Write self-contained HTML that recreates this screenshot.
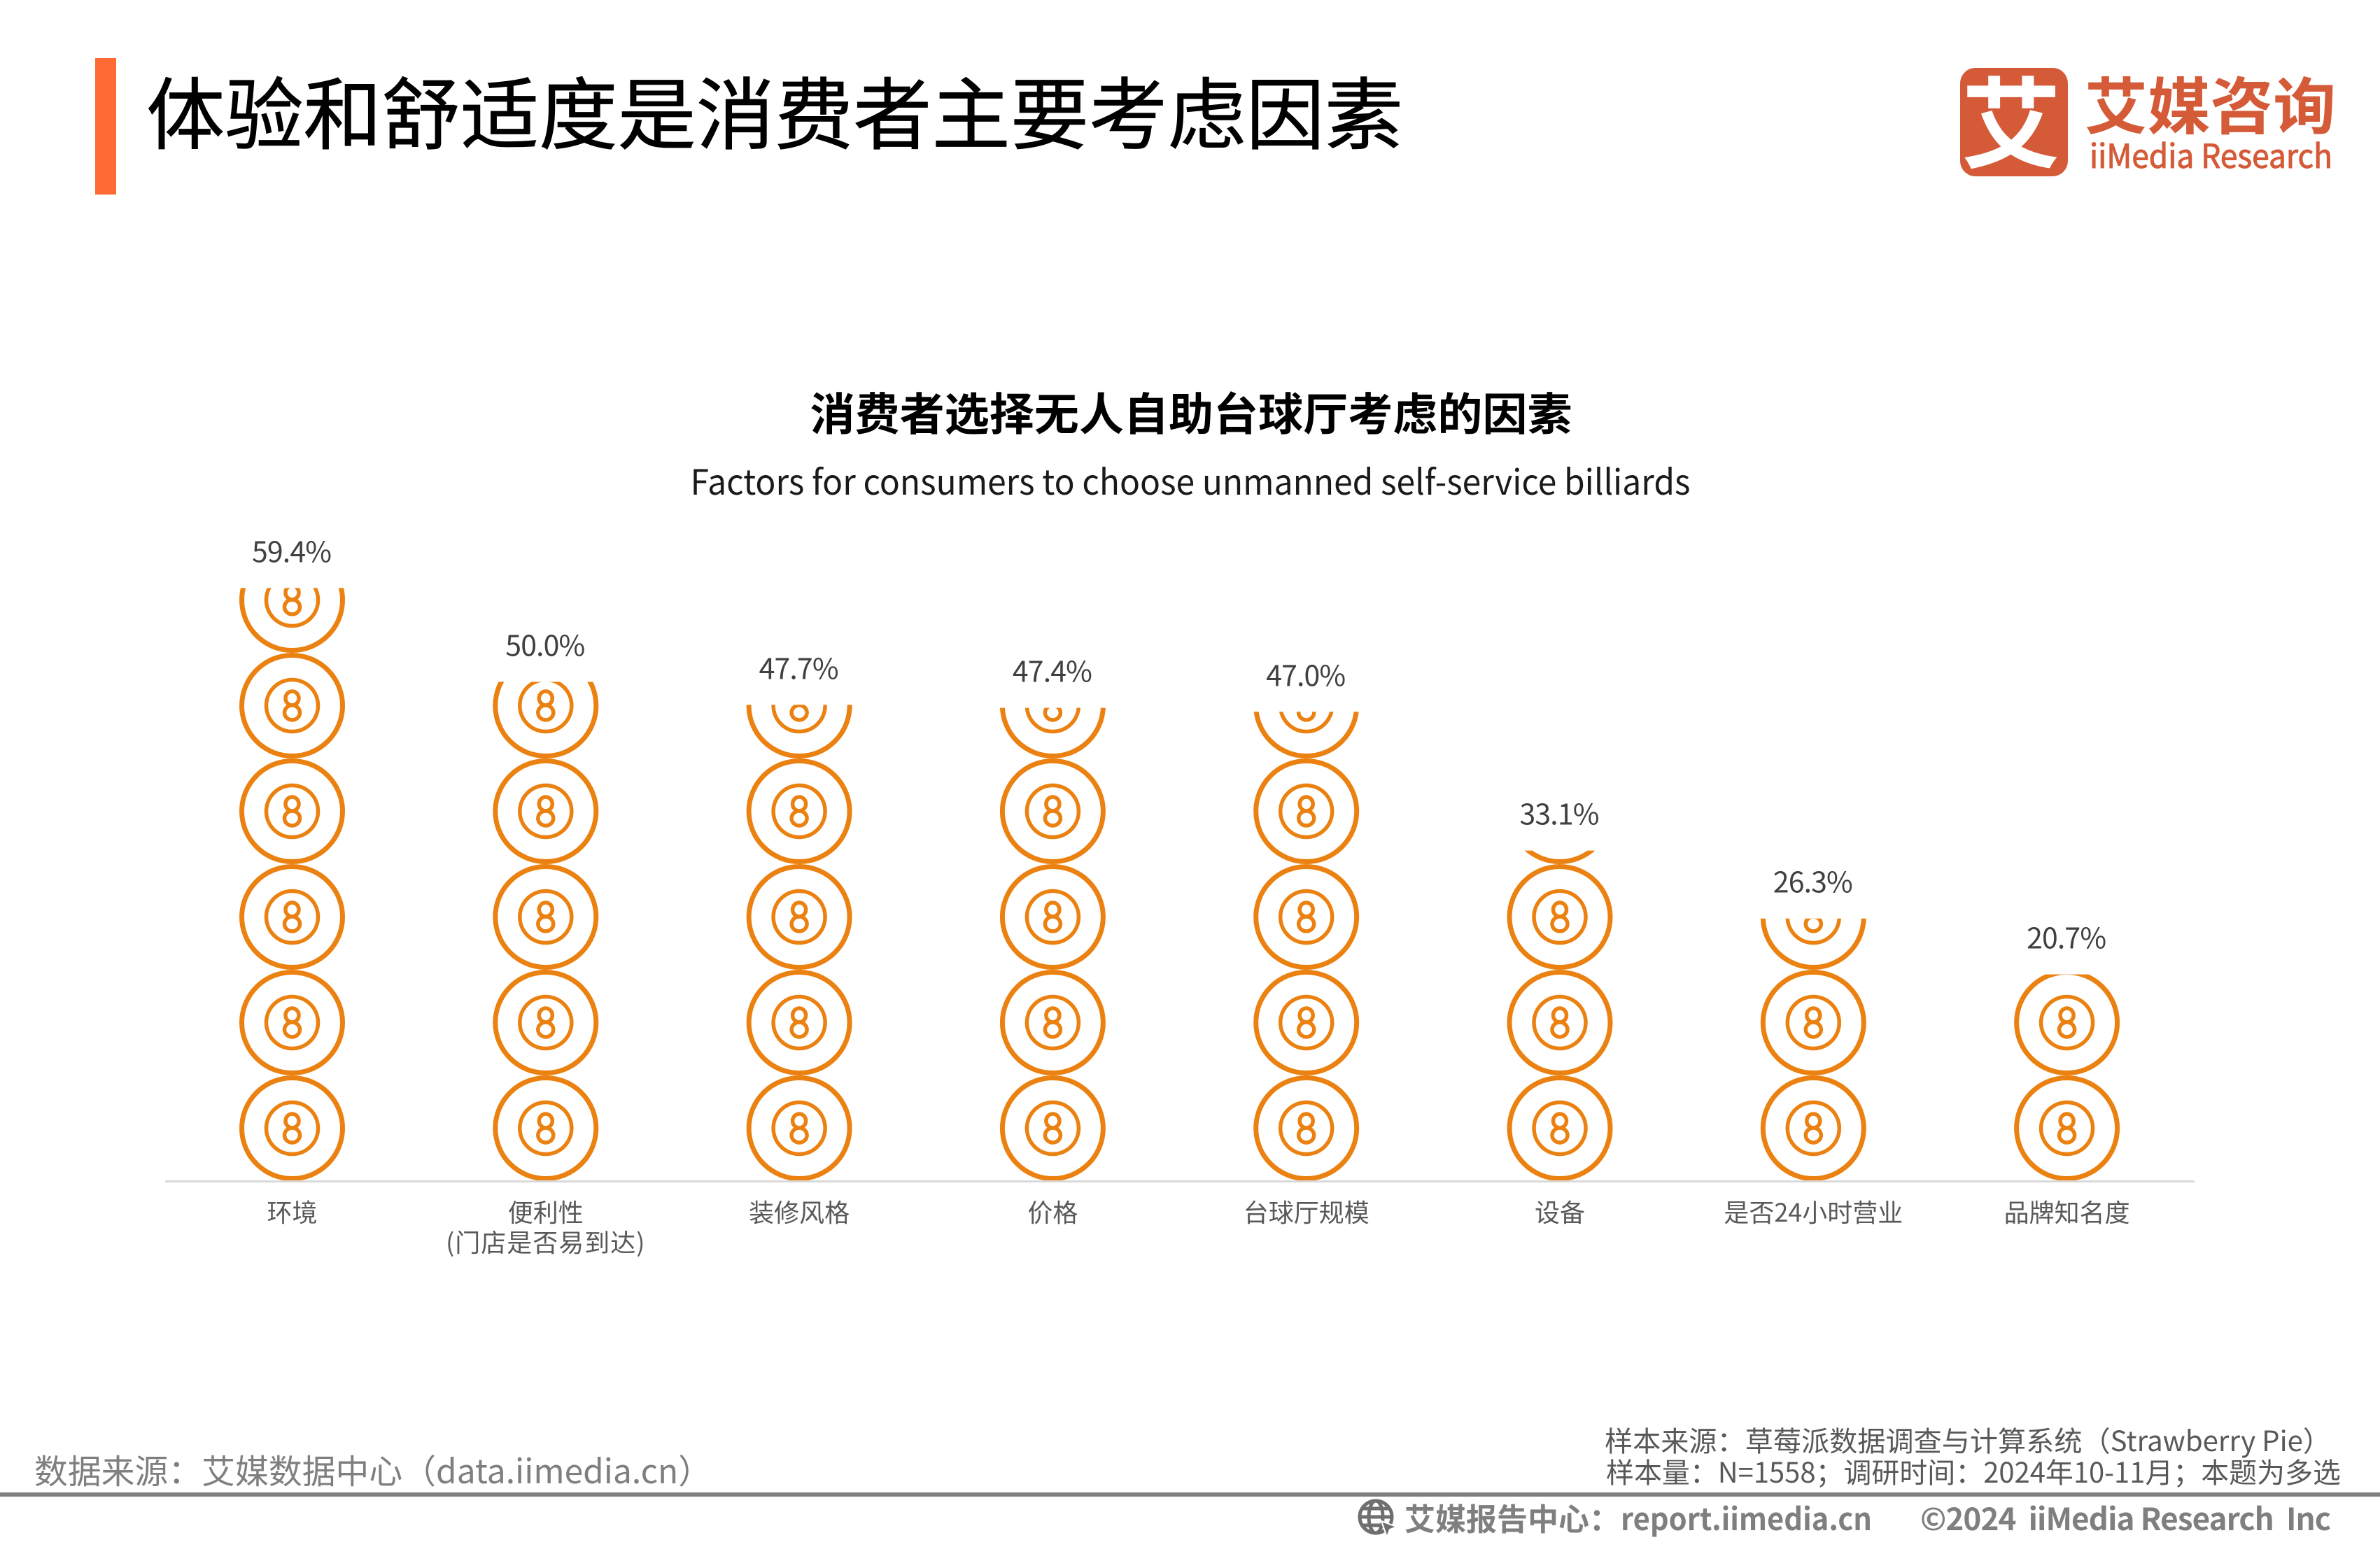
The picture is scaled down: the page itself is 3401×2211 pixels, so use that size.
<!DOCTYPE html>
<html lang="zh-CN">
<head>
<meta charset="utf-8">
<title>体验和舒适度是消费者主要考虑因素</title>
<style>
html,body{margin:0;padding:0;background:#fff;width:3401px;height:2211px;overflow:hidden}
svg{display:block}
text{font-family:"Noto Sans CJK SC","Liberation Sans",sans-serif}
</style>
</head>
<body>
<svg id="page" xmlns="http://www.w3.org/2000/svg" width="3401" height="2211" viewBox="0 0 3401 2211">
  <rect x="0" y="0" width="3401" height="2211" fill="#ffffff"/>
  <rect x="136" y="83" width="30" height="195" fill="#ff6a33"/>
  <text x="209" y="204" font-size="112" fill="#000000" stroke="#000000" stroke-width="0.8" textLength="1796" lengthAdjust="spacingAndGlyphs">体验和舒适度是消费者主要考虑因素</text>

  <g>
    <rect x="2801" y="97" width="154" height="155" rx="22" fill="#d45a38"/>
    <text x="2874" y="229" font-size="142" font-weight="700" fill="#ffffff" text-anchor="middle">艾</text>
    <text x="2979" y="184" font-size="88" font-weight="700" fill="#d45a38" textLength="359" lengthAdjust="spacingAndGlyphs">艾媒咨询</text>
    <text x="2986" y="240" font-size="47" fill="#d45a38" stroke="#d45a38" stroke-width="1" textLength="347" lengthAdjust="spacingAndGlyphs">iiMedia Research</text>
  </g>

  <text x="1702" y="615" font-size="64" font-weight="700" fill="#000000" text-anchor="middle" textLength="1089" lengthAdjust="spacingAndGlyphs">消费者选择无人自助台球厅考虑的因素</text>
  <text x="1701" y="707" font-size="50" fill="#1a1a1a" text-anchor="middle" textLength="1429" lengthAdjust="spacingAndGlyphs">Factors for consumers to choose unmanned self-service billiards</text>

  <g id="chart"></g>

  <text x="49" y="2120" font-size="48" fill="#7f7f7f" textLength="968" lengthAdjust="spacingAndGlyphs">数据来源：艾媒数据中心（data.iimedia.cn）</text>
  <text x="2293" y="2074" font-size="40" fill="#595959" textLength="1038" lengthAdjust="spacingAndGlyphs">样本来源：草莓派数据调查与计算系统（Strawberry Pie）</text>
  <text x="2295" y="2119" font-size="40" fill="#595959" textLength="1050" lengthAdjust="spacingAndGlyphs">样本量：N=1558；调研时间：2024年10-11月；本题为多选</text>
  <rect x="0" y="2133" width="3401" height="6" fill="#7f7f7f"/>

  <g fill="none" stroke="#6f6f6f" stroke-width="5">
    <circle cx="1966" cy="2168" r="23"/>
    <ellipse cx="1966" cy="2168" rx="10" ry="23"/>
    <path d="M1943 2168H1989M1947 2156H1985M1947 2180H1985"/>
    <path d="M1974 2174L1996 2182L1986 2186L1982 2197Z" fill="#6f6f6f" stroke="#ffffff" stroke-width="2"/>
  </g>
  <text x="2007" y="2187" font-size="44" font-weight="700" fill="#7f7f7f">艾媒报告中心：</text>
  <text x="2316" y="2187" font-size="44" font-weight="700" fill="#7f7f7f" textLength="359" lengthAdjust="spacingAndGlyphs">report.iimedia.cn</text>
  <text x="2744" y="2187" font-size="44" font-weight="700" fill="#7f7f7f" textLength="587" lengthAdjust="spacing">©2024&#160;&#160;iiMedia Research&#160;&#160;Inc</text>
</svg>

<script>
const categories = ["环境", "便利性\n(门店是否易到达)", "装修风格", "价格", "台球厅规模", "设备", "是否24小时营业", "品牌知名度"];
const seriesValues = [59.4, 50.0, 47.7, 47.4, 47.0, 33.1, 26.3, 20.7];

const SVG_NS = "http://www.w3.org/2000/svg";
const chart = document.getElementById("chart");
const baselineY = 1688;
const pxPerPercent = 14.27;
const firstCenterX = 417.5;
const bandStep = 362.3;
const symbolHeight = 151;
const orange = "#eb8110";

function xScale(index) {
  return firstCenterX + index * bandStep;
}
function yScale(value) {
  return baselineY - value * pxPerPercent;
}
function make(tag, attrs) {
  const el = document.createElementNS(SVG_NS, tag);
  for (const key in attrs) {
    el.setAttribute(key, attrs[key]);
  }
  return el;
}

function drawSymbol(parent, cx, cy) {
  const ball = make("g", {fill: "none", stroke: orange});
  
  
  ball.appendChild(make("circle", {cx: cx, cy: cy, r: 72, "stroke-width": 7}));
  ball.appendChild(make("circle", {cx: cx, cy: cy, r: 37, "stroke-width": 5.5}));
  ball.appendChild(make("ellipse", {cx: cx, cy: cy - 10.5, rx: 9.5, ry: 10, "stroke-width": 5.5}));
  ball.appendChild(make("ellipse", {cx: cx, cy: cy + 10, rx: 11, ry: 10.5, "stroke-width": 5.5}));
  parent.appendChild(ball);
}

const defs = make("defs", {});
chart.appendChild(defs);

seriesValues.forEach(function (value, i) {
  const cx = xScale(i);
  const top = yScale(value);

  const clip = make("clipPath", {id: "bar-clip-" + i});
  clip.appendChild(make("rect", {x: cx - 85, y: top, width: 170, height: baselineY - top + 2}));
  defs.appendChild(clip);

  const bar = make("g", {"clip-path": "url(#bar-clip-" + i + ")"});
  
  
  const count = Math.ceil((baselineY - top) / symbolHeight);
  for (let n = 0; n < count; n++) {
    drawSymbol(bar, cx, baselineY - (n + 0.5) * symbolHeight);
  }
  chart.appendChild(bar);

  const label = make("text", {x: cx - 0.5, y: top - 37, "font-size": 41, fill: "#404040", "text-anchor": "middle", textLength: 114, lengthAdjust: "spacing"});
  
  
  label.textContent = value.toFixed(1) + "%";
  chart.appendChild(label);

  const lines = categories[i].split("\n");
  lines.forEach(function (line, k) {
    const tick = make("text", {x: cx, y: 1746 + k * 43, "font-size": 36, fill: "#595959", "text-anchor": "middle"});
    
    
    if (k > 0) {
      tick.setAttribute("letter-spacing", "1");
    }
    tick.textContent = line;
    chart.appendChild(tick);
  });
});

const axis = make("rect", {x: 236, y: 1687, width: 2900, height: 3, fill: "#d9d9d9"});


chart.appendChild(axis);
</script>
</body>
</html>
